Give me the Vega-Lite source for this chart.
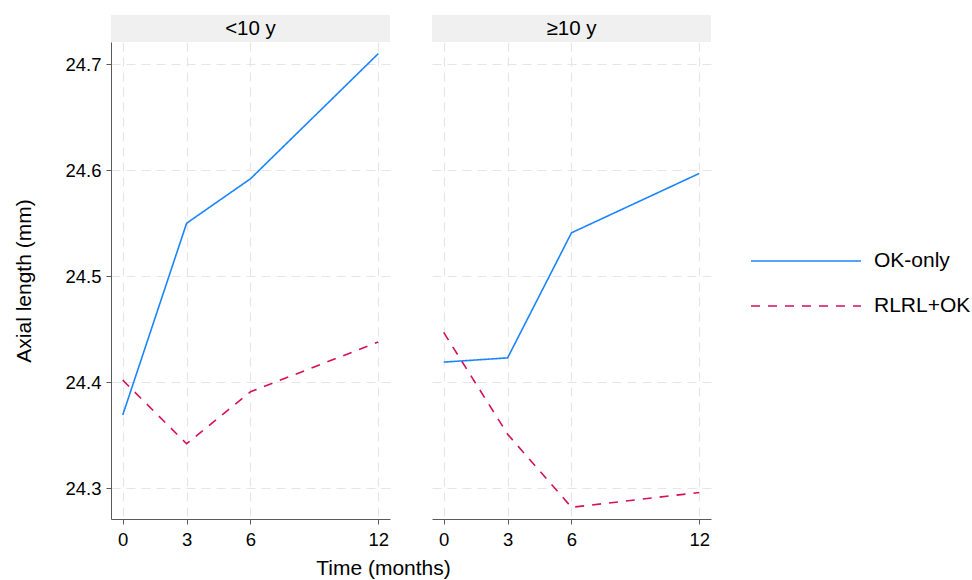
{
  "$schema": "https://vega.github.io/schema/vega-lite/v6.json",
  "background": "white",
  "padding": {"left": 13, "top": 15, "right": 5, "bottom": 5},
  "config": {
    "font": "Liberation Sans",
    "view": {"stroke": null},
    "axis": {
      "labelFont": "Liberation Sans",
      "titleFont": "Liberation Sans",
      "labelFontSize": 18.5,
      "titleFontSize": 21,
      "titleFontWeight": "normal",
      "labelColor": "#000000",
      "titleColor": "#000000",
      "domainColor": "#5a5a5a",
      "tickColor": "#5a5a5a",
      "tickSize": 5,
      "gridColor": "#e6e6e6",
      "gridDash": [9, 6],
      "gridWidth": 1.2
    },
    "legend": {
      "labelFont": "Liberation Sans",
      "labelFontSize": 21,
      "labelColor": "#000000"
    }
  },
  "datasets": {
    "lines": [
      {"age": "<10 y", "group": "OK-only", "time": 0, "al": 24.369},
      {"age": "<10 y", "group": "OK-only", "time": 3, "al": 24.550},
      {"age": "<10 y", "group": "OK-only", "time": 6, "al": 24.592},
      {"age": "<10 y", "group": "OK-only", "time": 12, "al": 24.710},
      {"age": "<10 y", "group": "RLRL+OK", "time": 0, "al": 24.402},
      {"age": "<10 y", "group": "RLRL+OK", "time": 3, "al": 24.342},
      {"age": "<10 y", "group": "RLRL+OK", "time": 6, "al": 24.391},
      {"age": "<10 y", "group": "RLRL+OK", "time": 12, "al": 24.438},
      {"age": "≥10 y", "group": "OK-only", "time": 0, "al": 24.419},
      {"age": "≥10 y", "group": "OK-only", "time": 3, "al": 24.423},
      {"age": "≥10 y", "group": "OK-only", "time": 6, "al": 24.541},
      {"age": "≥10 y", "group": "OK-only", "time": 12, "al": 24.597},
      {"age": "≥10 y", "group": "RLRL+OK", "time": 0, "al": 24.447},
      {"age": "≥10 y", "group": "RLRL+OK", "time": 3, "al": 24.351},
      {"age": "≥10 y", "group": "RLRL+OK", "time": 6, "al": 24.282},
      {"age": "≥10 y", "group": "RLRL+OK", "time": 12, "al": 24.296}
    ],
    "headL": [{"label": "<10 y"}],
    "headR": [{"label": "≥10 y"}]
  },
  "align": "none",
  "spacing": -19,
  "hconcat": [
    {
      "spacing": 0,
      "vconcat": [
        {
          "width": 279,
          "height": 27,
          "data": {"name": "headL"},
          "layer": [
            {"mark": {"type": "rect", "fill": "#f0f0f0"}, "encoding": {}},
            {"mark": {"type": "text", "fontSize": 20.5, "color": "#000000", "baseline": "middle", "align": "center"}, "encoding": {"text": {"field": "label"}}}
          ]
        },
        {
          "width": 279,
          "height": 477,
          "data": {"name": "lines"},
          "transform": [{"filter": "datum.age === '<10 y'"}],
          "mark": {"type": "line", "strokeWidth": 1.6},
          "encoding": {
            "x": {
              "field": "time", "type": "quantitative",
              "scale": {"domain": [-0.55, 12.55], "nice": false, "zero": false},
              "axis": {"values": [0, 3, 6, 12], "title": "Time (months)", "labelPadding": 6, "titleX": 272, "titleY": 49, "titleAlign": "center", "titleBaseline": "middle", "grid": true}
            },
            "y": {
              "field": "al", "type": "quantitative",
              "scale": {"domain": [24.271, 24.721], "nice": false, "zero": false},
              "axis": {"values": [24.3, 24.4, 24.5, 24.6, 24.7], "format": ".1f", "title": "Axial length (mm)", "labelPadding": 5, "titlePadding": 30, "grid": true}
            },
            "color": {
              "field": "group", "type": "nominal",
              "scale": {"domain": ["OK-only", "RLRL+OK"], "range": ["#1a85ff", "#d41159"]},
              "legend": {"title": null, "orient": "none", "legendX": 683, "legendY": 234, "symbolType": "M-5,0H5", "symbolSize": 484, "symbolStrokeWidth": 1.6, "labelOffset": 56, "rowPadding": 23, "padding": 0}
            },
            "strokeDash": {
              "field": "group", "type": "nominal",
              "scale": {"domain": ["OK-only", "RLRL+OK"], "range": [[1, 0], [9, 8]]},
              "legend": {"title": null, "orient": "none", "legendX": 683, "legendY": 234, "symbolType": "M-5,0H5", "symbolSize": 484, "symbolStrokeWidth": 1.6, "labelOffset": 56, "rowPadding": 23, "padding": 0}
            }
          }
        }
      ]
    },
    {
      "spacing": 0,
      "vconcat": [
        {
          "width": 279,
          "height": 27,
          "data": {"name": "headR"},
          "layer": [
            {"mark": {"type": "rect", "fill": "#f0f0f0"}, "encoding": {}},
            {"mark": {"type": "text", "fontSize": 20.5, "color": "#000000", "baseline": "middle", "align": "center"}, "encoding": {"text": {"field": "label"}}}
          ]
        },
        {
          "width": 279,
          "height": 477,
          "data": {"name": "lines"},
          "transform": [{"filter": "datum.age === '≥10 y'"}],
          "mark": {"type": "line", "strokeWidth": 1.6},
          "encoding": {
            "x": {
              "field": "time", "type": "quantitative",
              "scale": {"domain": [-0.55, 12.55], "nice": false, "zero": false},
              "axis": {"values": [0, 3, 6, 12], "title": null, "labelPadding": 6, "grid": true}
            },
            "y": {
              "field": "al", "type": "quantitative",
              "scale": {"domain": [24.271, 24.721], "nice": false, "zero": false},
              "axis": {"values": [24.3, 24.4, 24.5, 24.6, 24.7], "labels": false, "ticks": false, "domain": false, "title": null, "grid": true}
            },
            "color": {
              "field": "group", "type": "nominal",
              "scale": {"domain": ["OK-only", "RLRL+OK"], "range": ["#1a85ff", "#d41159"]}
            },
            "strokeDash": {
              "field": "group", "type": "nominal",
              "scale": {"domain": ["OK-only", "RLRL+OK"], "range": [[1, 0], [9, 8]]}
            }
          }
        }
      ]
    }
  ]
}
